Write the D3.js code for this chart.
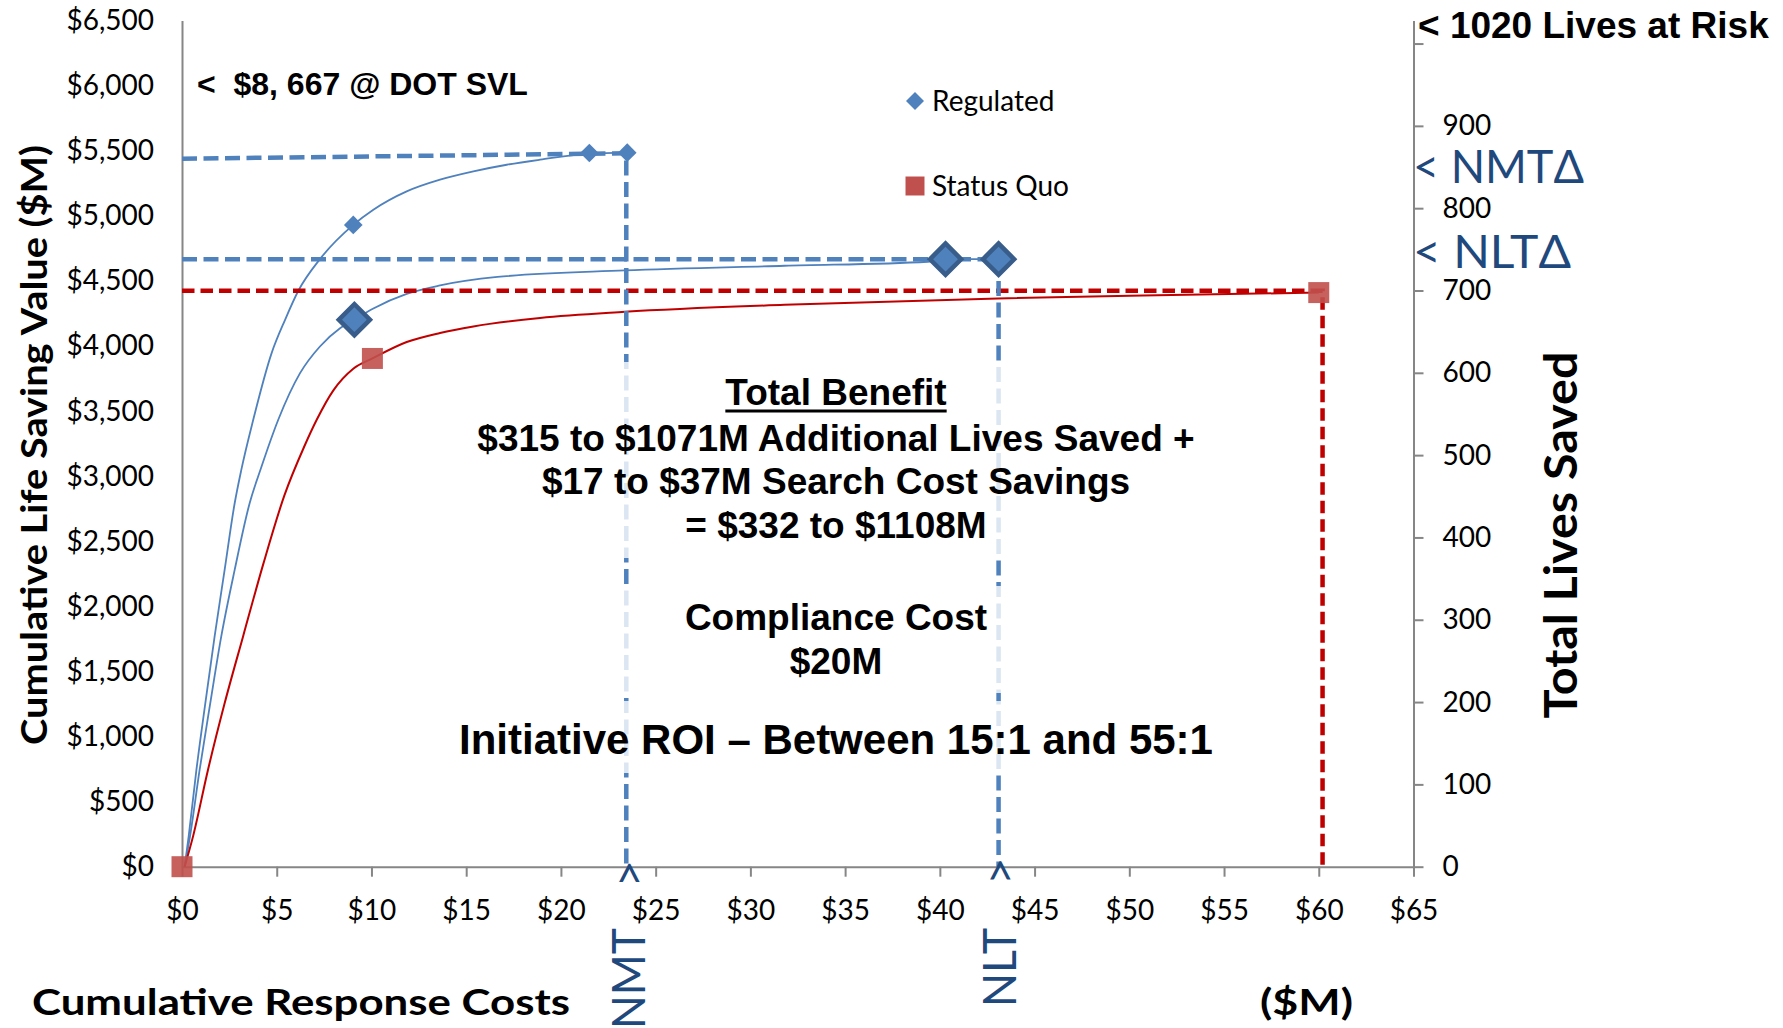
<!DOCTYPE html>
<html>
<head>
<meta charset="utf-8">
<script src="https://cdn.jsdelivr.net/npm/d3@7"></script>
<style>
  body { margin: 0; background: #fff; }
  svg { display: block; }
  .tick text { font-family: Lato, sans-serif; font-size: 28px; fill: #000; }
  .domain, .tick line { stroke: #868686; stroke-width: 2; }
  .arialBold { font-family: "Liberation Sans", Arial, sans-serif; font-weight: bold; fill: #000; }
  .calibri { font-family: Lato, sans-serif; fill: #000; }
  .calibriBold { font-family: Lato, sans-serif; font-weight: bold; fill: #000; }
  .navy { font-family: Lato, sans-serif; fill: #1F497D; font-size: 47px; }
</style>
</head>
<body>
<script>
//axis ticks
var costTicks = [0, 5, 10, 15, 20, 25, 30, 35, 40, 45, 50, 55, 60, 65];
var valueTicks = [0, 500, 1000, 1500, 2000, 2500, 3000, 3500, 4000, 4500, 5000, 5500, 6000, 6500];
var livesTicks = [0, 100, 200, 300, 400, 500, 600, 700, 800, 900, 1000];

//regulated - upper curve (NMT)
var regHighCost  = [0.14, 0.35, 0.76, 1.23, 1.72, 2.25, 2.78, 3.13, 3.76, 4.73, 5.44, 6.14, 7.28, 9.04, 10.1, 11.86, 13.62, 15.38, 17.14, 18.9, 21.5, 23.5];
var regHighValue = [0, 231, 743, 1255, 1767, 2280, 2792, 3048, 3433, 3945, 4201, 4424, 4667, 4930, 5046, 5187, 5277, 5341, 5392, 5431, 5478, 5485];
var regHighMarkCost  = [9.04, 21.5, 23.5];
var regHighMarkValue = [4930, 5482, 5485];

//regulated - lower curve (NLT)
var regLowCost  = [0.14, 0.42, 0.93, 1.49, 2.07, 2.78, 3.57, 4.19, 5.08, 6.23, 7.28, 8.34, 9.1, 10.1, 11.86, 13.62, 16.65, 23.37, 31.8, 39.37, 40.3, 43.1];
var regLowValue = [0, 231, 743, 1255, 1767, 2280, 2792, 3070, 3433, 3791, 3996, 4136, 4202, 4288, 4400, 4465, 4530, 4580, 4616, 4647, 4667, 4667];
var regLowMarkCost  = [9.1, 40.3, 43.1];
var regLowMarkValue = [4202, 4667, 4667];

//status quo
var sqCost  = [0.14, 0.58, 1.37, 2.25, 3.22, 4.3, 5.4, 6.43, 7.11, 7.99, 9.04, 10.05, 11.86, 13.62, 15.38, 18.9, 23.37, 31.8, 43.07, 53.0, 60.0];
var sqValue = [0, 231, 743, 1255, 1767, 2330, 2850, 3220, 3433, 3659, 3825, 3904, 4030, 4100, 4150, 4215, 4262, 4316, 4365, 4393, 4410];
var sqMarkCost  = [0, 10.05, 60.0];
var sqMarkValue = [0, 3904, 4410];

//dashed guide lines
var nmtGuideCost  = [0, 23.45, 23.45];
var nmtGuideValue = [5438, 5480, 0];
var nltGuideCost  = [0, 43.1, 43.1];
var nltGuideValue = [4667, 4667, 0];
var sqGuideCost  = [0, 60.2, 60.2];
var sqGuideValue = [4424, 4424, 0];

//annotation text
var benefitLines = ["Total Benefit", "$315 to $1071M Additional Lives Saved +", "$17 to $37M Search Cost Savings", "= $332 to $1108M"];
var costLines = ["Compliance Cost", "$20M"];
var roiLine = "Initiative ROI \u2013 Between 15:1 and 55:1";

var width = 1783, height = 1028;
var plotLeft = 182, plotRight = 1413.5, plotTop = 20.5, plotBottom = 866.7;

window.onload = setChart();

function setChart(){
    var svg = d3.select("body")
        .append("svg")
        .attr("width", width)
        .attr("height", height);

    var x = d3.scaleLinear().domain([0, 65]).range([plotLeft, plotRight]);
    var y = d3.scaleLinear().domain([0, 6500]).range([plotBottom, plotTop]);
    var yLives = d3.scaleLinear().domain([0, 1028]).range([plotBottom, plotTop]);

    setAxes(svg, x, y, yLives);

    //smoothed series lines
    var line = d3.line()
        .x(function(d){ return x(d[0]); })
        .y(function(d){ return y(d[1]); })
        .curve(d3.curveMonotoneX);
    drawCurve(svg, line, regHighCost, regHighValue, "#4F81BD", 1.8);
    drawCurve(svg, line, regLowCost, regLowValue, "#4F81BD", 1.8);
    drawCurve(svg, line, sqCost, sqValue, "#C00000", 2);

    //dashed guides
    var straight = d3.line()
        .x(function(d){ return x(d[0]); })
        .y(function(d){ return y(d[1]); });
    drawGuide(svg, straight, sqGuideCost, sqGuideValue, "#C00000", "12.5,6");
    drawGuide(svg, straight, nmtGuideCost, nmtGuideValue, "#4F81BD", "15,6.5");
    drawGuide(svg, straight, nltGuideCost, nltGuideValue, "#4F81BD", "15,6.5");

    //markers
    var diamondSmall = d3.symbol().type(d3.symbolSquare).size(174);
    var diamondBig = d3.symbol().type(d3.symbolSquare).size(485);
    var square = d3.symbol().type(d3.symbolSquare).size(441);

    svg.selectAll(".regHigh")
        .data(d3.zip(regHighMarkCost, regHighMarkValue))
        .enter()
        .append("path")
        .attr("class", "regHigh")
        .attr("d", diamondSmall)
        .attr("transform", function(d){ return "translate(" + x(d[0]) + "," + y(d[1]) + ") rotate(45)"; })
        .style("fill", "#4F81BD");

    svg.selectAll(".regLow")
        .data(d3.zip(regLowMarkCost, regLowMarkValue))
        .enter()
        .append("path")
        .attr("class", "regLow")
        .attr("d", diamondBig)
        .attr("transform", function(d){ return "translate(" + x(d[0]) + "," + y(d[1]) + ") rotate(45)"; })
        .style("fill", "#4F81BD")
        .style("stroke", "#385D8A")
        .style("stroke-width", 4.5);

    svg.selectAll(".sq")
        .data(d3.zip(sqMarkCost, sqMarkValue))
        .enter()
        .append("path")
        .attr("class", "sq")
        .attr("d", square)
        .attr("transform", function(d){ return "translate(" + x(d[0]) + "," + y(d[1]) + ")"; })
        .style("fill", "#C0504D")
        .style("opacity", 0.9);

    setAnnotations(svg);
    setLegend(svg);
};

function setAxes(svg, x, y, yLives){
    svg.append("g")
        .attr("transform", "translate(0," + plotBottom + ")")
        .call(d3.axisBottom(x)
            .tickValues(costTicks)
            .tickSize(10)
            .tickSizeOuter(0)
            .tickPadding(23)
            .tickFormat(function(d){ return "$" + d; }));

    svg.append("g")
        .attr("transform", "translate(" + plotLeft + ",0)")
        .call(d3.axisLeft(y)
            .tickValues(valueTicks)
            .tickSize(0)
            .tickSizeOuter(0)
            .tickPadding(28)
            .tickFormat(function(d){ return "$" + d3.format(",")(d); }));

    svg.append("g")
        .attr("transform", "translate(" + plotRight + ",0)")
        .call(d3.axisRight(yLives)
            .tickValues(livesTicks)
            .tickSize(10)
            .tickSizeOuter(0)
            .tickPadding(19)
            .tickFormat(function(d){ return d == 1000 ? "" : d; }));

    //axis titles
    svg.append("text")
        .attr("class", "calibriBold")
        .attr("transform", "translate(46.6,445) rotate(-90)")
        .attr("text-anchor", "middle")
        .attr("textLength", 600)
        .attr("lengthAdjust", "spacingAndGlyphs")
        .style("font-size", "36px")
        .text("Cumulative Life Saving Value ($M)");

    svg.append("text")
        .attr("class", "calibriBold")
        .attr("transform", "translate(1577,535) rotate(-90)")
        .attr("text-anchor", "middle")
        .attr("textLength", 367)
        .attr("lengthAdjust", "spacingAndGlyphs")
        .style("font-size", "46px")
        .text("Total Lives Saved");

    svg.append("text")
        .attr("class", "calibriBold")
        .attr("x", 32)
        .attr("y", 1015)
        .attr("textLength", 538)
        .attr("lengthAdjust", "spacingAndGlyphs")
        .style("font-size", "37px")
        .text("Cumulative Response Costs");

    svg.append("text")
        .attr("class", "calibriBold")
        .attr("x", 1260)
        .attr("y", 1015)
        .attr("textLength", 93)
        .attr("lengthAdjust", "spacingAndGlyphs")
        .style("font-size", "37px")
        .text("($M)");
};

function drawCurve(svg, line, xs, ys, color, w){
    svg.append("path")
        .datum(d3.zip(xs, ys))
        .attr("d", line)
        .style("fill", "none")
        .style("stroke", color)
        .style("stroke-width", w);
};

function drawGuide(svg, line, xs, ys, color, dash){
    svg.append("path")
        .datum(d3.zip(xs, ys))
        .attr("d", line)
        .style("fill", "none")
        .style("stroke", color)
        .style("stroke-width", 4.5)
        .style("stroke-dasharray", dash);
};

function setAnnotations(svg){
    //semi-transparent text boxes over the guides
    var boxes = [[362, 558], [586, 693], [701, 773]];
    svg.selectAll(".textBox")
        .data(boxes)
        .enter()
        .append("rect")
        .attr("class", "textBox")
        .attr("x", 465)
        .attr("width", 745)
        .attr("y", function(d){ return d[0]; })
        .attr("height", function(d){ return d[1] - d[0]; })
        .style("fill", "#fff")
        .style("opacity", 0.8);

    var cx = 836;
    var benefitY = [405, 451, 494, 538];
    benefitLines.forEach(function(t, i){
        var el = svg.append("text")
            .attr("class", "arialBold")
            .attr("x", cx)
            .attr("y", benefitY[i])
            .attr("text-anchor", "middle")
            .style("font-size", "37px")
            .text(t);
        if (i == 0){
            var w = el.node().getComputedTextLength();
            svg.append("line")
                .attr("x1", cx - w / 2)
                .attr("x2", cx + w / 2)
                .attr("y1", 411)
                .attr("y2", 411)
                .style("stroke", "#000")
                .style("stroke-width", 2.8);
        }
    });

    var costY = [630, 674];
    costLines.forEach(function(t, i){
        svg.append("text")
            .attr("class", "arialBold")
            .attr("x", cx)
            .attr("y", costY[i])
            .attr("text-anchor", "middle")
            .style("font-size", "37px")
            .text(t);
    });

    svg.append("text")
        .attr("class", "arialBold")
        .attr("x", cx)
        .attr("y", 754)
        .attr("text-anchor", "middle")
        .style("font-size", "42px")
        .text(roiLine);

    svg.append("text")
        .attr("class", "arialBold")
        .attr("x", 197)
        .attr("y", 95)
        .style("font-size", "32px")
        .style("white-space", "pre")
        .text("<  $8, 667 @ DOT SVL");

    svg.append("text")
        .attr("class", "arialBold")
        .attr("x", 1418)
        .attr("y", 38)
        .style("font-size", "37px")
        .text("< 1020 Lives at Risk");

    //threshold labels on the right
    svg.append("text")
        .attr("class", "navy")
        .attr("x", 1413)
        .attr("y", 183)
        .attr("textLength", 171)
        .attr("lengthAdjust", "spacingAndGlyphs")
        .text("< NMT\u0394");

    svg.append("text")
        .attr("class", "navy")
        .attr("x", 1413)
        .attr("y", 268)
        .attr("textLength", 158)
        .attr("lengthAdjust", "spacingAndGlyphs")
        .text("< NLT\u0394");

    //threshold labels below the x axis
    svg.append("text")
        .attr("class", "navy")
        .attr("transform", "translate(645,928) rotate(-90)")
        .attr("text-anchor", "end")
        .attr("textLength", 101)
        .attr("lengthAdjust", "spacingAndGlyphs")
        .text("NMT");
    svg.append("text")
        .attr("class", "navy")
        .attr("transform", "translate(645,873.5) rotate(-90)")
        .attr("text-anchor", "middle")
        .text(">");

    svg.append("text")
        .attr("class", "navy")
        .attr("transform", "translate(1016,928) rotate(-90)")
        .attr("text-anchor", "end")
        .attr("textLength", 79)
        .attr("lengthAdjust", "spacingAndGlyphs")
        .text("NLT");
    svg.append("text")
        .attr("class", "navy")
        .attr("transform", "translate(1016,871) rotate(-90)")
        .attr("text-anchor", "middle")
        .text(">");
};

function setLegend(svg){
    svg.append("path")
        .attr("d", d3.symbol().type(d3.symbolSquare).size(162))
        .attr("transform", "translate(915,101) rotate(45)")
        .style("fill", "#4F81BD");
    svg.append("text")
        .attr("class", "calibri")
        .attr("x", 932)
        .attr("y", 111)
        .style("font-size", "28px")
        .text("Regulated");

    svg.append("path")
        .attr("d", d3.symbol().type(d3.symbolSquare).size(361))
        .attr("transform", "translate(915,186)")
        .style("fill", "#C0504D");
    svg.append("text")
        .attr("class", "calibri")
        .attr("x", 932)
        .attr("y", 196)
        .style("font-size", "28px")
        .text("Status Quo");
};
</script>
</body>
</html>
